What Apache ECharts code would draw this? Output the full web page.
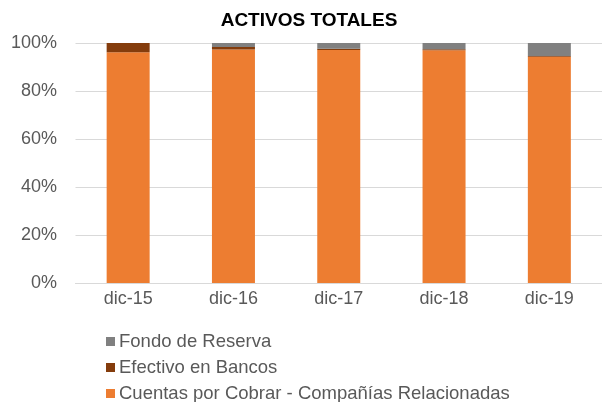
<!DOCTYPE html>
<html>
<head>
<meta charset="utf-8">
<script src="https://cdn.jsdelivr.net/npm/echarts@6/dist/echarts.min.js"></script>
<style>html,body{margin:0;padding:0;background:#fff}#c{width:602px;height:402px}</style>
</head>
<body>
<div id="c"></div>
<script>
var categories = ['dic-15', 'dic-16', 'dic-17', 'dic-18', 'dic-19'];
var cuentas = [96.1, 97.3, 97.1, 97.0, 94.3];
var efectivo = [3.9, 1.0, 0.5, 0.4, 0.3];
var fondo = [0.0, 1.7, 2.4, 2.6, 5.4];
var yTicks = [0, 20, 40, 60, 80, 100];
var legendNames = ['Fondo de Reserva', 'Efectivo en Bancos', 'Cuentas por Cobrar - Compañías Relacionadas'];

var chart = echarts.init(document.getElementById('c'));
var font = '"Liberation Sans", Arial, sans-serif';
var legendTops = [332, 358, 384];
var legends = legendNames.map(function (n, i) {
  return {
    orient: 'horizontal', left: 106, top: legendTops[i], padding: 0,
    icon: 'rect', itemWidth: 9, itemHeight: 9,
    data: [n],
    textStyle: {fontFamily: font, fontSize: 18.5, color: '#595959', lineHeight: 18, padding: [0, 0, 0, -1]}
  };
});
chart.setOption({
  animation: false,
  title: {
    text: 'ACTIVOS TOTALES',
    left: 304, top: 6, textAlign: 'center',
    textStyle: {fontFamily: font, fontSize: 19, fontWeight: 'bold', color: '#000'}
  },
  legend: legends,
  grid: {left: 75.5, top: 43, width: 537, height: 240, containLabel: false},
  xAxis: {
    type: 'category', data: categories,
    axisLine: {lineStyle: {color: '#D9D9D9'}},
    axisTick: {show: false},
    axisLabel: {fontFamily: font, fontSize: 18, color: '#595959', margin: 7}
  },
  yAxis: {
    type: 'value', min: yTicks[0], max: yTicks[yTicks.length - 1], interval: 20,
    axisLine: {show: false}, axisTick: {show: false},
    splitLine: {lineStyle: {color: '#D9D9D9'}},
    axisLabel: {fontFamily: font, fontSize: 18, color: '#595959', margin: 18.5, formatter: '{value}%'}
  },
  series: [
    {name: legendNames[2], type: 'bar', stack: 's', data: cuentas, barWidth: 43, itemStyle: {color: '#ED7D31'}},
    {name: legendNames[1], type: 'bar', stack: 's', data: efectivo, barWidth: 43, itemStyle: {color: '#843C0C'}},
    {name: legendNames[0], type: 'bar', stack: 's', data: fondo, barWidth: 43, itemStyle: {color: '#808080'}}
  ]
});
</script>
</body>
</html>
